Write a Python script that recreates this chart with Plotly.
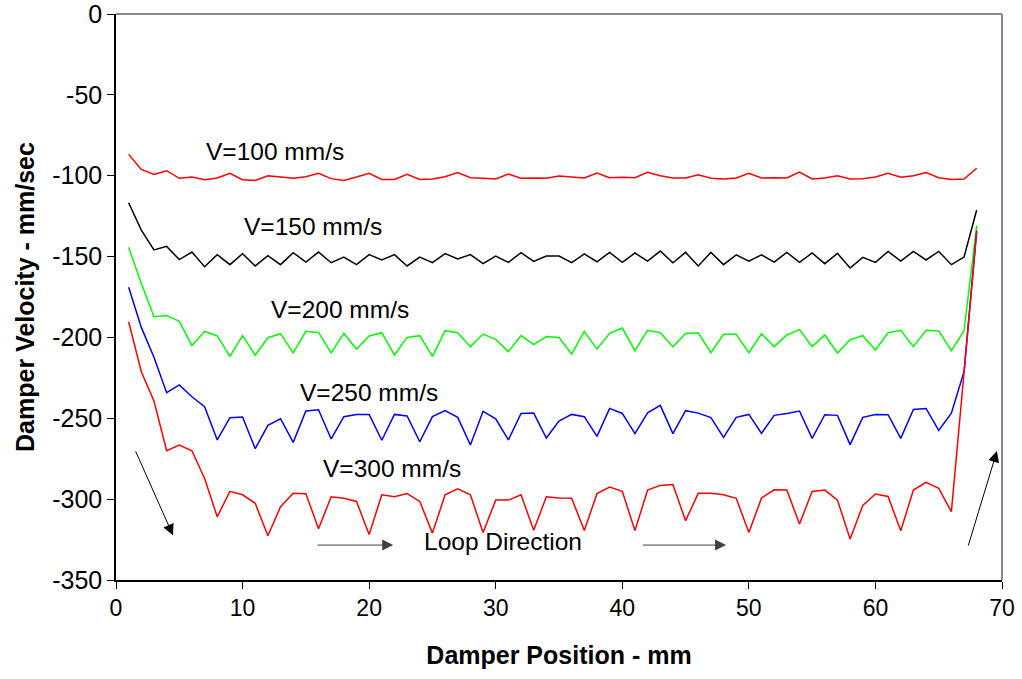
import plotly.graph_objects as go

positions = [1, 2, 3, 4, 5, 6, 7, 8, 9, 10, 11, 12, 13, 14, 15, 16, 17, 18, 19, 20,
             21, 22, 23, 24, 25, 26, 27, 28, 29, 30, 31, 32, 33, 34, 35, 36, 37, 38, 39, 40,
             41, 42, 43, 44, 45, 46, 47, 48, 49, 50, 51, 52, 53, 54, 55, 56, 57, 58, 59, 60,
             61, 62, 63, 64, 65, 66, 67, 68]

v100 = [-86.8, -96.1, -99.2, -96.9, -101.6, -100.8, -102.5, -101.4, -98.5, -102.5,
        -102.9, -100.0, -100.8, -101.6, -100.6, -98.5, -101.8, -102.9, -100.8, -98.5,
        -102.3, -102.3, -99.2, -102.3, -102.0, -100.6, -98.1, -101.2, -101.6, -102.0,
        -99.0, -101.6, -101.4, -101.6, -100.2, -100.8, -101.4, -98.3, -101.2, -101.0,
        -101.2, -97.9, -100.0, -101.4, -101.4, -99.4, -101.6, -102.0, -101.4, -98.5,
        -101.4, -101.2, -101.4, -97.7, -102.0, -101.4, -100.0, -102.0, -101.8, -100.8,
        -98.5, -101.0, -100.0, -98.1, -101.2, -102.3, -102.0, -95.4]

v150 = [-116.7, -133.6, -145.9, -143.7, -151.9, -147.2, -156.3, -148.8, -155.0, -148.2,
        -155.8, -149.5, -155.0, -147.6, -153.4, -147.2, -153.8, -150.3, -155.0, -148.8,
        -152.1, -148.8, -155.8, -150.3, -153.8, -148.2, -151.5, -148.8, -154.4, -149.7,
        -153.6, -147.6, -153.0, -149.7, -149.7, -153.8, -148.4, -153.2, -147.4, -153.6,
        -147.8, -152.8, -146.6, -153.8, -147.4, -155.8, -147.4, -155.0, -149.0, -152.8,
        -149.0, -153.4, -147.4, -153.6, -147.8, -154.4, -148.0, -157.1, -150.5, -153.6,
        -146.8, -152.8, -146.8, -152.1, -146.8, -155.0, -150.3, -121.2]

v200 = [-144.3, -166.6, -187.2, -186.4, -190.1, -205.1, -196.2, -199.1, -211.7, -198.9,
        -210.9, -200.2, -197.7, -209.6, -196.2, -196.9, -209.6, -197.5, -207.2, -199.1,
        -197.1, -210.9, -200.0, -198.9, -211.7, -195.8, -197.1, -205.7, -197.9, -201.2,
        -208.8, -198.9, -204.5, -199.5, -200.0, -210.3, -196.2, -207.2, -197.5, -194.2,
        -208.2, -195.6, -197.1, -205.7, -197.5, -197.1, -209.4, -198.1, -198.1, -209.4,
        -197.7, -205.7, -198.5, -195.2, -205.7, -198.5, -209.6, -201.4, -198.9, -207.8,
        -197.1, -195.6, -205.7, -195.6, -196.0, -208.2, -196.0, -130.9]

v250 = [-169.0, -193.8, -212.3, -234.2, -229.4, -236.7, -242.8, -263.4, -249.6, -249.2,
        -268.8, -254.4, -250.3, -264.9, -245.5, -244.7, -262.8, -249.0, -247.6, -247.6,
        -263.6, -247.6, -248.6, -264.5, -249.0, -245.3, -249.4, -266.5, -245.7, -250.3,
        -263.4, -247.0, -246.8, -262.2, -251.7, -247.6, -249.0, -261.2, -243.9, -247.0,
        -259.5, -246.6, -242.0, -259.5, -245.3, -246.8, -249.6, -261.8, -249.4, -247.6,
        -259.3, -248.2, -247.0, -245.5, -262.4, -247.8, -248.2, -266.3, -249.4, -247.6,
        -247.8, -262.4, -244.5, -243.9, -257.5, -246.8, -221.2, -134.0]

v300 = [-190.3, -221.2, -239.3, -270.1, -266.5, -270.1, -287.2, -310.9, -295.2, -297.3,
        -302.6, -322.6, -304.7, -296.4, -296.6, -318.3, -298.5, -299.5, -301.4, -321.8,
        -297.3, -298.5, -296.6, -301.4, -321.0, -297.3, -293.6, -297.3, -320.6, -300.6,
        -300.6, -297.3, -319.3, -298.5, -299.3, -299.5, -319.4, -296.6, -292.5, -295.2,
        -319.4, -294.4, -291.5, -291.0, -313.3, -296.4, -296.4, -297.3, -299.5, -320.6,
        -299.3, -294.2, -294.4, -315.4, -295.2, -294.4, -300.6, -324.7, -303.9, -296.8,
        -298.3, -319.6, -294.4, -289.6, -293.3, -307.8, -222.0, -134.6]

series = [
    ("V=100 mm/s", v100, "#FF0000"),
    ("V=150 mm/s", v150, "#000000"),
    ("V=200 mm/s", v200, "#00FF00"),
    ("V=250 mm/s", v250, "#0000FF"),
    ("V=300 mm/s", v300, "#FF0000"),
]

# label positions (data coords)
label_x = [12.6, 15.6, 17.7, 20.0, 21.8]
label_y = [-85.3, -131.5, -183.0, -234.2, -280.8]

x_ticks = [0, 10, 20, 30, 40, 50, 60, 70]
x_tick_text = ["0", "10", "20", "30", "40", "50", "60", "70"]
y_ticks = [0, -50, -100, -150, -200, -250, -300, -350]
y_tick_text = ["0", "-50", "-100", "-150", "-200", "-250", "-300", "-350"]

FONT = "Liberation Sans, Arial, sans-serif"

fig = go.Figure()
for name, vals, col in series:
    fig.add_trace(go.Scatter(x=positions, y=vals, mode="lines", name=name,
                             line=dict(color=col, width=1.5), showlegend=False))

annotations = []
for (name, _, _), lx, ly in zip(series, label_x, label_y):
    annotations.append(dict(x=lx, y=ly, xref="x", yref="y", text=name, showarrow=False,
                            font=dict(family=FONT, size=24.5, color="#000000")))
annotations.append(dict(x=30.56, y=-326.3, xref="x", yref="y", text="Loop Direction",
                        showarrow=False, font=dict(family=FONT, size=24.5, color="#000000")))

# arrows (tail -> head)
arrows = [
    ((1.5, -269.5), (4.5, -322.3), "#000000"),
    ((15.8, -328.4), (21.9, -328.4), "#404040"),
    ((41.5, -328.4), (48.2, -328.4), "#404040"),
    ((67.3, -329.6), (69.6, -270.3), "#000000"),
]
for (tx, ty), (hx, hy), col in arrows:
    annotations.append(dict(x=hx, y=hy, ax=tx, ay=ty, xref="x", yref="y", axref="x", ayref="y",
                            text="", showarrow=True, arrowhead=2, arrowsize=2.2,
                            arrowwidth=1, arrowcolor=col))

fig.update_layout(
    width=1022, height=679,
    margin=dict(l=116, r=20, t=14, b=99),
    paper_bgcolor="white", plot_bgcolor="white",
    annotations=annotations,
    xaxis=dict(range=[0, 70], tickvals=x_ticks, ticktext=x_tick_text, ticks="outside",
               ticklen=7, tickcolor="#000000", automargin=False, ticklabeloverflow="allow",
               showline=True, linecolor="#000000", linewidth=1.5, showgrid=False, zeroline=False,
               tickfont=dict(family=FONT, size=23, color="#000000"),
               title=dict(text="<b>Damper Position - mm</b>", standoff=26,
                          font=dict(family=FONT, size=25, color="#000000"))),
    yaxis=dict(range=[-350, 0], tickvals=y_ticks, ticktext=y_tick_text, ticks="outside",
               ticklen=7, tickcolor="#000000", automargin=False, ticklabeloverflow="allow",
               showline=True, linecolor="#000000", linewidth=1.5, showgrid=False, zeroline=False,
               tickfont=dict(family=FONT, size=25, color="#000000"),
               title=dict(text="<b>Damper Velocity - mm/sec</b>", standoff=10,
                          font=dict(family=FONT, size=25, color="#000000"))),
    shapes=[
        dict(type="line", xref="paper", yref="paper", x0=0, x1=1, y0=1, y1=1,
             line=dict(color="#888888", width=2)),
        dict(type="line", xref="paper", yref="paper", x0=1, x1=1, y0=0, y1=1,
             line=dict(color="#888888", width=2)),
    ],
)

fig.write_html("out.html")
